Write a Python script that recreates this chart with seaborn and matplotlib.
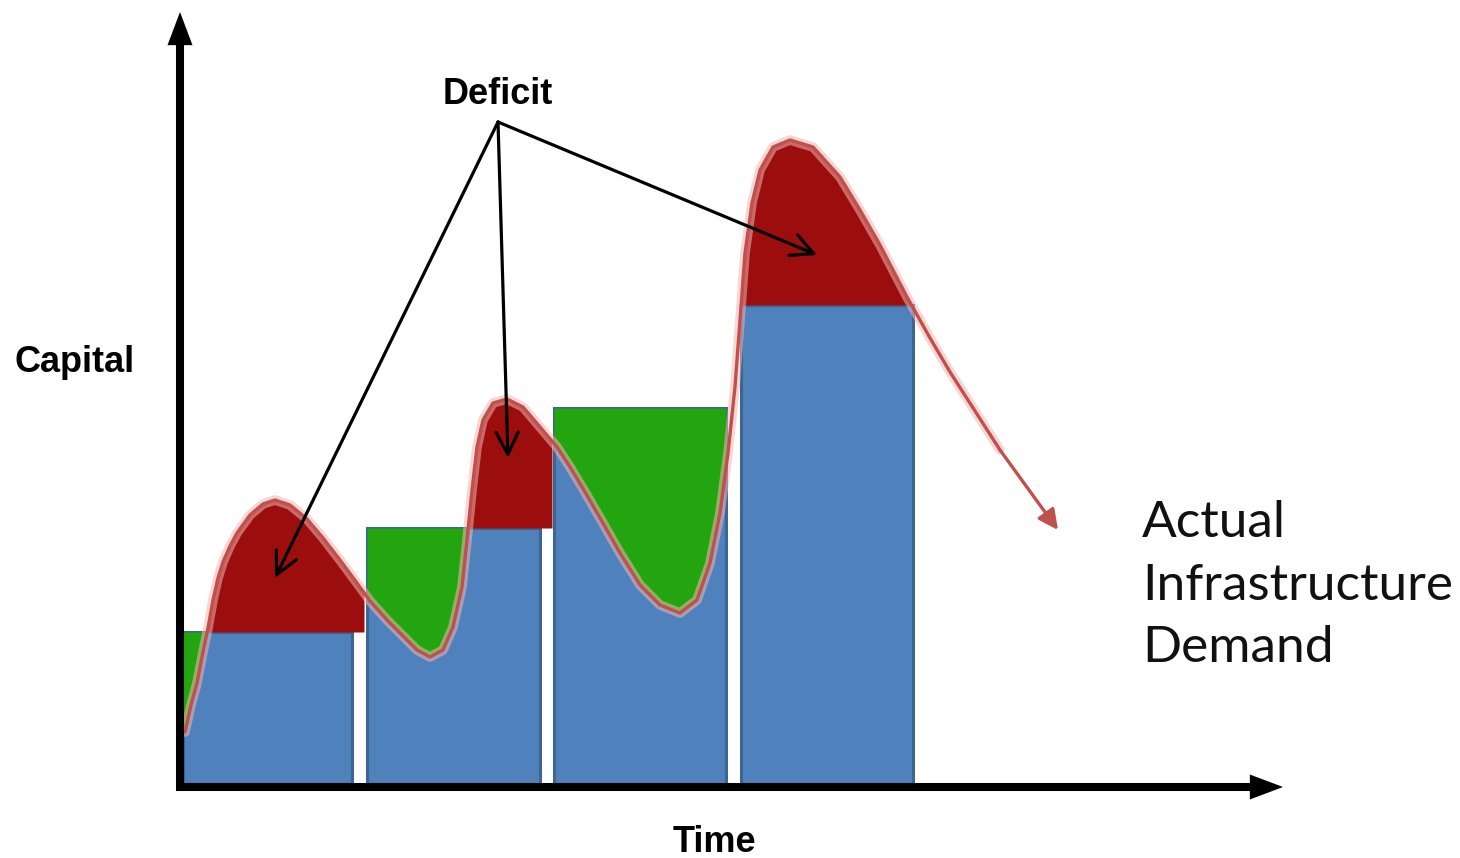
import numpy as np
import matplotlib
matplotlib.use("Agg")
import matplotlib.pyplot as plt
import seaborn as sns

# Infrastructure capacity blocks (time span and capital level of each build-out)
bar_start = [0.3, 18.7, 37.4, 56.1]
bar_end = [17.2, 36.0, 54.6, 73.3]
bar_capital = [15.3, 25.7, 37.7, 48.0]

# Actual infrastructure demand over time
demand_t = [0.5, 1.1, 1.7, 2.3, 2.8, 3.3, 3.8, 4.3, 5.0, 5.7, 7.0, 8.3, 9.5,
            11.0, 12.7, 14.3, 16.0, 17.7, 19.0, 20.7, 22.0, 23.7, 25.0, 26.3,
            27.3, 28.2, 28.7, 29.2, 29.7, 30.3, 31.3, 32.7, 34.3, 36.0, 37.7,
            39.0, 40.5, 42.0, 44.0, 46.0, 48.0, 50.0, 51.7, 53.0, 54.0, 54.8,
            55.5, 56.0, 56.5, 57.2, 58.0, 59.3, 61.0, 63.3, 66.0, 68.0, 70.0,
            72.7, 75.0, 77.0, 82.0, 87.8]
demand_v = [5.3, 8.0, 10.2, 13.3, 15.7, 18.5, 20.7, 22.3, 23.9, 25.2, 27.0, 28.1, 28.5,
            28.0, 26.6, 24.7, 22.5, 20.2, 18.4, 16.5, 15.2, 13.5, 12.8, 13.5,
            15.8, 19.8, 24.5, 29.5, 33.8, 36.5, 38.2, 38.6, 37.8, 35.8, 33.8,
            31.8, 29.3, 26.7, 23.2, 20.0, 18.0, 17.2, 18.5, 22.2, 27.2, 33.2,
            39.8, 46.5, 53.2, 58.2, 61.5, 63.8, 64.5, 63.8, 60.8, 57.5, 54.0,
            48.8, 44.7, 41.3, 33.5, 25.5]

# Pointers from the "Deficit" label into the shortfall regions
deficit_label = (31.8, 68.1)
deficit_targets = [(9.5, 20.7), (32.8, 32.7), (63.7, 53.0)]

demand_lines = ["Actual", "Infrastructure", "Demand"]

BLUE = "#4F81BD"
BLUE_EDGE = "#3E6590"
RED = "#9C0E0E"
GREEN = "#22A50F"
CURVE = "#C0504D"

sns.set_theme(style="white")
plt.rcParams["font.family"] = ["Liberation Sans", "DejaVu Sans"]

fig = plt.figure(figsize=(14.6, 8.58), dpi=100)
ax = fig.add_axes([0, 0, 1, 1])
ax.set_xlim(-18, 128)
ax.set_ylim(-7.3, 78.5)
ax.set_axis_off()

t_arr = np.asarray(demand_t)
v_arr = np.asarray(demand_v)

# Capacity blocks
for s, e, h in zip(bar_start, bar_end, bar_capital):
    ax.bar(s, h, width=e - s, align="edge", color=BLUE, edgecolor=BLUE_EDGE,
           linewidth=2.2, zorder=2)

# Shortfall (red) and surplus (green) between demand and each block
for s, e, h in zip(bar_start, bar_end, bar_capital):
    # a shortfall still running at the block's end spills slightly into the gap
    e_red = e + 1.2 if np.interp(e, t_arr, v_arr) > h else e
    grid = np.unique(np.concatenate([[s, e, e_red], t_arr[(t_arr > s) & (t_arr < e_red)]]))
    vals = np.interp(grid, t_arr, v_arr)
    ax.fill_between(grid, h, vals, where=vals >= h, interpolate=True,
                    color=RED, linewidth=0, zorder=3)
    g2 = grid[grid <= e]
    v2 = vals[grid <= e]
    ax.fill_between(g2, v2, h, where=v2 <= h, interpolate=True,
                    color=GREEN, linewidth=0, zorder=3)

# Demand curve with a soft halo
sns.lineplot(x=demand_t[:-1], y=demand_v[:-1], ax=ax, color="#F3B5B2",
             linewidth=7, alpha=0.55, zorder=4, sort=False)
sns.lineplot(x=demand_t[:-1], y=demand_v[:-1], ax=ax, color=CURVE,
             linewidth=2.4, zorder=5, sort=False)
ax.annotate("", xy=(demand_t[-1], demand_v[-1]), xytext=(demand_t[-2], demand_v[-2]),
            arrowprops=dict(arrowstyle="-|>,head_length=0.6,head_width=0.3",
                            color=CURVE, lw=2.4, shrinkA=0, shrinkB=0,
                            mutation_scale=20), zorder=5)

# Deficit label and pointers
ax.text(deficit_label[0], deficit_label[1], "Deficit", ha="center", va="baseline",
        fontsize=26, fontweight="bold", color="black", zorder=7)
for tx, ty in deficit_targets:
    ax.annotate("", xy=(tx, ty), xytext=(deficit_label[0], deficit_label[1] - 1.8),
                arrowprops=dict(arrowstyle="->,head_length=0.8,head_width=0.4",
                                color="black", lw=2.3, shrinkA=0, shrinkB=0,
                                mutation_scale=20), zorder=7)

# Axes drawn as thick arrows
axis_style = dict(arrowstyle="-|>,head_length=0.85,head_width=0.32", color="black",
                  lw=5.8, shrinkA=0, shrinkB=0, mutation_scale=15,
                  joinstyle="miter", capstyle="butt")
ax.annotate("", xy=(0, 77.3), xytext=(0, -0.6), arrowprops=axis_style, zorder=8)
ax.annotate("", xy=(110.3, -0.2), xytext=(-0.4, -0.2), arrowprops=axis_style, zorder=8)

ax.text(-16.5, 41.3, "Capital", ha="left", va="baseline", fontsize=26,
        fontweight="bold", color="black")
ax.text(53.4, -6.7, "Time", ha="center", va="baseline", fontsize=26,
        fontweight="bold", color="black")

for line, yb in zip(demand_lines, [24.8, 18.5, 12.3]):
    ax.text(96.2, yb, line, ha="left", va="baseline", fontsize=37,
            family=["Lato", "DejaVu Sans"], color="#111111")

fig.savefig("out.png", dpi=100)
